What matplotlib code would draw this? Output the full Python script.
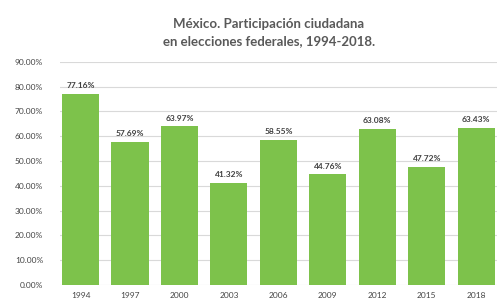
import matplotlib.pyplot as plt
from matplotlib.ticker import FuncFormatter

# data
years = ["1994", "1997", "2000", "2003", "2006", "2009", "2012", "2015", "2018"]
participation = [77.16, 57.69, 63.97, 41.32, 58.55, 44.76, 63.08, 47.72, 63.43]

plt.rcParams['font.family'] = ['Lato', 'DejaVu Sans']

fig = plt.figure(figsize=(4.98, 3.04), dpi=100)
ax = fig.add_axes([0.12, 0.062, 0.878, 0.735])

x = range(len(years))
bars = ax.bar(x, participation, width=0.75, color="#7dc24b", zorder=2)

for b, v in zip(bars, participation):
    ax.text(b.get_x() + b.get_width() / 2, v + 1.8, f"{v:.2f}%",
            ha="center", va="bottom", fontsize=6, fontweight="bold", color="#404040")

ax.set_ylim(0, 90)
ax.set_yticks(range(0, 91, 10))
ax.yaxis.set_major_formatter(FuncFormatter(lambda v, p: f"{v:.2f}%"))
ax.set_xlim(-0.42, len(years) - 0.58)
ax.set_xticks(list(x))
ax.set_xticklabels(years)
ax.tick_params(axis="both", length=0, labelsize=6, colors="#444444")
ax.tick_params(axis="y", pad=12)
ax.tick_params(axis="x", pad=5)
ax.grid(axis="y", color="#d9d9d9", linewidth=0.8, zorder=0)
for s in ax.spines.values():
    s.set_visible(False)

fig.text(0.54, 0.893, "México. Participación ciudadana\nen elecciones federales, 1994-2018.",
         ha="center", va="center", fontsize=9.5, fontweight="bold", color="#595959",
         linespacing=1.5)

fig.savefig("out.png", dpi=100)
